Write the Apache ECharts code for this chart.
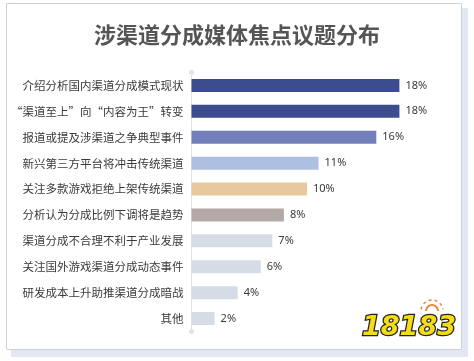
<!DOCTYPE html>
<html>
<head>
<meta charset="utf-8">
<script src="https://cdn.jsdelivr.net/npm/echarts@6/dist/echarts.min.js"></script>
<style>
html, body { margin: 0; padding: 0; background: #fff; }
#main { width: 474px; height: 361px; }
</style>
</head>
<body>
<div id="main"></div>
<script>
// 议题分类
var categories = [
    '介绍分析国内渠道分成模式现状',
    '“渠道至上”向“内容为王”转变',
    '报道或提及涉渠道之争典型事件',
    '新兴第三方平台将冲击传统渠道',
    '关注多款游戏拒绝上架传统渠道',
    '分析认为分成比例下调将是趋势',
    '渠道分成不合理不利于产业发展',
    '关注国外游戏渠道分成动态事件',
    '研发成本上升助推渠道分成暗战',
    '其他'
];
// 占比 (%)
var values = [18, 18, 16, 11, 10, 8, 7, 6, 4, 2];
var barColors = ['#3b4c8f', '#3b4c8f', '#727fba', '#aec0e1', '#e8c99d', '#b4a9a6', '#d6dce6', '#d6dce6', '#d6dce6', '#d6dce6'];

var myChart = echarts.init(document.getElementById('main'));
myChart.setOption({
    animation: false,
    title: {
        text: '涉渠道分成媒体焦点议题分布',
        left: 'center',
        top: 19,
        textStyle: {
            fontFamily: 'Noto Sans CJK SC',
            fontSize: 22,
            fontWeight: 'bold',
            color: '#555'
        }
    },
    // 卡片背景和水印
    graphic: [
        { type: 'rect', z: -10, shape: { x: 11, y: 8, width: 457, height: 349 }, style: { fill: '#e2e7f1' } },
        { type: 'rect', z: -9, shape: { x: 6.5, y: 3.5, width: 455, height: 346 }, style: { fill: '#fff', stroke: '#c9d1e2', lineWidth: 1 } },
        { type: 'arc', shape: { cx: 432, cy: 311, r: 6, startAngle: Math.PI, endAngle: 2 * Math.PI }, style: { stroke: '#e8893a', fill: null, lineWidth: 2 } },
        { type: 'arc', shape: { cx: 432, cy: 311, r: 11, startAngle: Math.PI * 1.05, endAngle: Math.PI * 1.95 }, style: { stroke: '#e8893a', fill: null, lineWidth: 1.5, lineDash: [3, 3] } },
        {
            type: 'text', x: 409, y: 328,
            style: {
                text: '18183', fontSize: 27, fontWeight: 900, fontStyle: 'italic',
                fontFamily: 'DejaVu Sans', fill: '#f6dc14', stroke: '#222', lineWidth: 2.5,
                align: 'center', verticalAlign: 'middle'
            }
        }
    ],
    grid: {
        left: 191.5,
        right: 51.5,
        top: 72.5,
        bottom: 29.5,
        containLabel: false
    },
    xAxis: {
        type: 'value',
        min: 0,
        max: 20,
        show: false
    },
    yAxis: {
        type: 'category',
        inverse: true,
        data: categories,
        axisLine: {
            show: true,
            symbol: ['circle', 'circle'],
            symbolSize: [5, 5],
            lineStyle: { color: '#e3e3e3', width: 1 }
        },
        axisTick: { show: false },
        axisLabel: {
            margin: 8,
            fontFamily: 'Noto Sans CJK SC',
            fontSize: 11.5,
            color: '#3a3a3a'
        }
    },
    series: [
        {
            type: 'bar',
            barWidth: 13,
            data: values.map(function (v, i) {
                return { value: v, itemStyle: { color: barColors[i] } };
            }),
            label: {
                show: true,
                position: 'right',
                distance: 6,
                formatter: '{c}%',
                fontFamily: 'Noto Sans',
                fontSize: 11,
                color: '#3a3a3a'
            }
        }
    ]
});
</script>
</body>
</html>
